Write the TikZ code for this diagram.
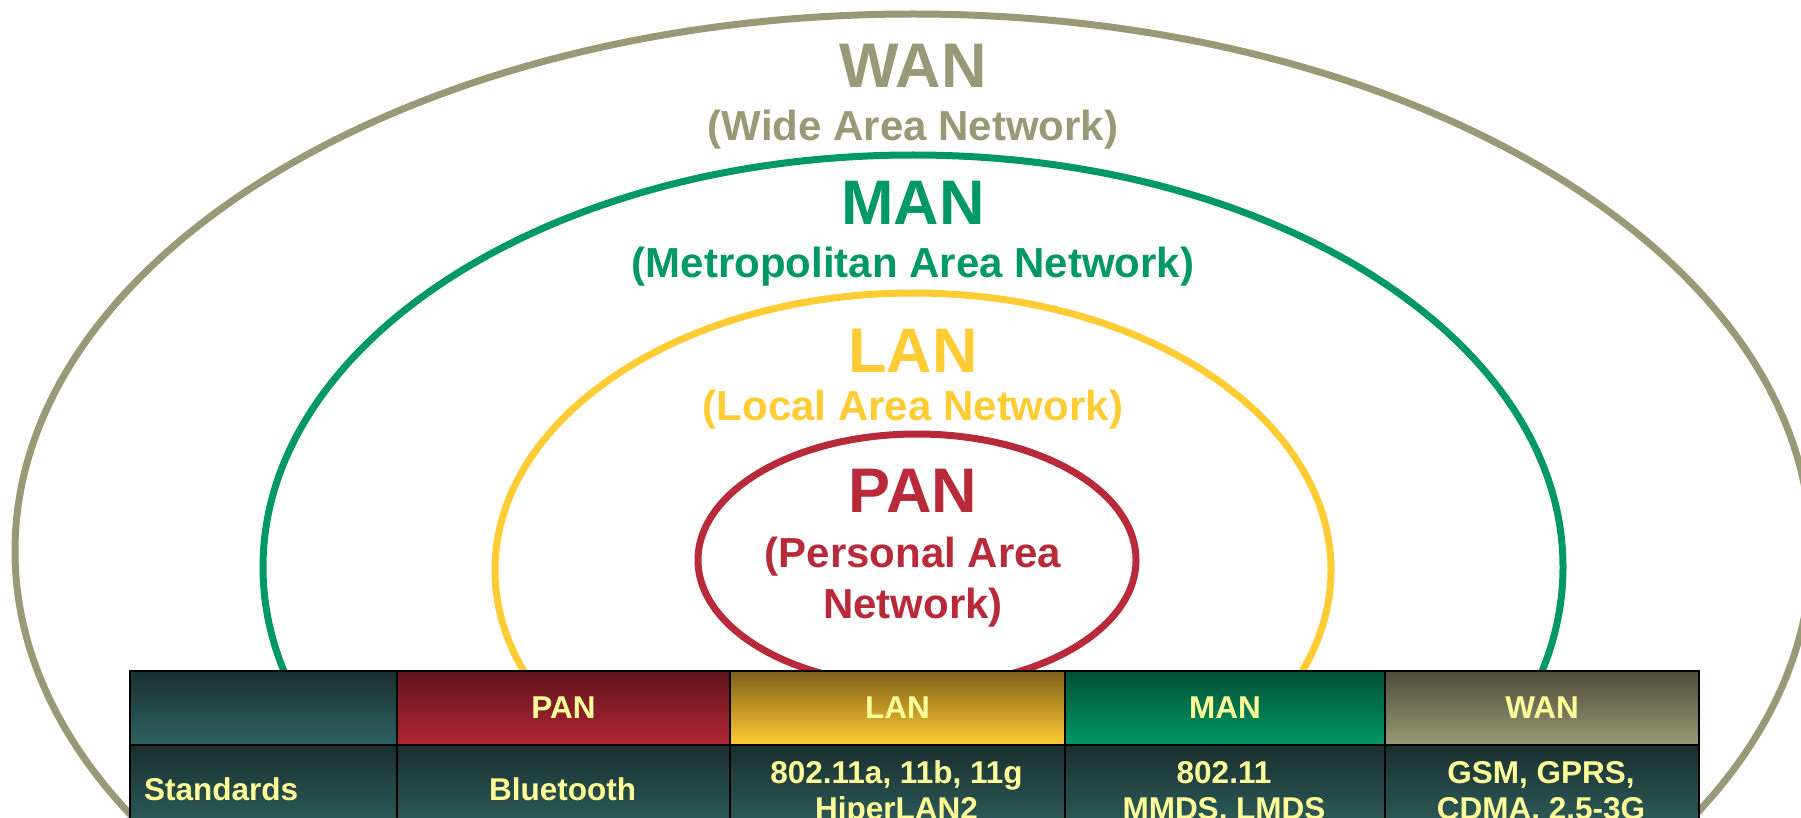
\documentclass[tikz,border=0pt]{standalone}
\usepackage{fontspec}
\setmainfont{Liberation Sans}
\definecolor{wanc}{HTML}{999977}
\definecolor{manc}{HTML}{009966}
\definecolor{lanc}{HTML}{FFCC33}
\definecolor{panc}{HTML}{B82A3A}
\definecolor{txtc}{HTML}{FFFF99}
\definecolor{tealtop}{HTML}{1A2F2F}
\definecolor{tealbot}{HTML}{2F625F}
\definecolor{pantop}{HTML}{5C141C}
\definecolor{panbot}{HTML}{B22634}
\definecolor{lantop}{HTML}{7F6019}
\definecolor{mantop}{HTML}{004F35}
\definecolor{wantop}{HTML}{4D4D3B}
\begin{document}
\begin{tikzpicture}[x=1pt,y=-1pt,
  ring/.style={line width=7pt},
  ttl/.style={font=\fontsize{63}{70}\selectfont\bfseries, inner sep=0pt, anchor=base},
  subttl/.style={font=\fontsize{42}{51}\selectfont\bfseries, inner sep=0pt, anchor=base, align=center},
  cellbox/.style={rectangle, draw=black, line width=2pt, inner sep=0pt, anchor=north west},
  hdbox/.style={cellbox, minimum height=74pt},
  rowbox/.style={cellbox, minimum height=92pt, top color=tealtop, middle color=tealbot!75!tealtop, bottom color=tealbot},
  hdtxt/.style={font=\fontsize{31.5}{36}\selectfont\bfseries, text=txtc, inner sep=0pt},
  rowtxt/.style={font=\fontsize{31.5}{36}\selectfont\bfseries, text=txtc, inner sep=0pt, anchor=base, align=center}
]
\useasboundingbox (0,0) rectangle (1801,818);
\clip (0,0) rectangle (1801,818);
\fill[white] (0,0) rectangle (1801,818);

% rings
\draw[ring, wanc] (913,551) ellipse [x radius=898, y radius=537];
\draw[ring, manc] (913,567) ellipse [x radius=650, y radius=412];
\draw[ring, lanc] (913,570) ellipse [x radius=418, y radius=277];
\draw[ring, panc] (917,560) ellipse [x radius=219, y radius=126];

% ring labels
\node[ttl, text=wanc] (wan) at (913,88) {WAN};
\node[subttl, text=wanc] (wansub) at (913,141) {(Wide Area Network)};
\node[ttl, text=manc] (man) at (913,225) {MAN};
\node[subttl, text=manc] (mansub) at (913,277) {(Metropolitan Area Network)};
\node[ttl, text=lanc] (lan) at (913,372) {LAN};
\node[subttl, text=lanc] (lansub) at (913,420) {(Local Area Network)};
\node[ttl, text=panc] (pan) at (913,512) {PAN};
\node[subttl, text=panc] (pansub) at (913,618) {(Personal Area\\Network)};

% table header
\node[hdbox, minimum width=267pt, top color=tealtop, middle color=tealbot, bottom color=tealbot] (h0) at (129,670) {};
\node[hdbox, minimum width=333pt, top color=pantop, middle color=panbot, bottom color=panbot] (hpan) at (396,670) {};
\node[hdbox, minimum width=335pt, top color=lantop, middle color=lanc, bottom color=lanc] (hlan) at (729,670) {};
\node[hdbox, minimum width=320pt, top color=mantop, middle color=manc, bottom color=manc] (hman) at (1064,670) {};
\node[hdbox, minimum width=314pt, top color=wantop, middle color=wanc, bottom color=wanc] (hwan) at (1384,670) {};

% table row
\node[rowbox, minimum width=267pt] (r0) at (129,744) {};
\node[rowbox, minimum width=333pt] (rpan) at (396,744) {};
\node[rowbox, minimum width=335pt] (rlan) at (729,744) {};
\node[rowbox, minimum width=320pt] (rman) at (1064,744) {};
\node[rowbox, minimum width=314pt] (rwan) at (1384,744) {};

% header texts
\node[hdtxt] (tpan) at (hpan.center) {PAN};
\node[hdtxt] (tlan) at (hlan.center) {LAN};
\node[hdtxt] (tman) at (hman.center) {MAN};
\node[hdtxt] (twan) at (hwan.center) {WAN};

% row texts
\node[rowtxt, anchor=base west] (tstd) at (144,800) {Standards};
\node[rowtxt] (tbt) at (562.5,800) {Bluetooth};
\node[rowtxt] (t80211a) at (896.5,819) {802.11a, 11b, 11g\\HiperLAN2};
\node[rowtxt] (t80211) at (1224,819) {802.11\\MMDS, LMDS};
\node[rowtxt] (tgsm) at (1541,819) {GSM, GPRS,\\CDMA, 2.5-3G};
\end{tikzpicture}
\end{document}
